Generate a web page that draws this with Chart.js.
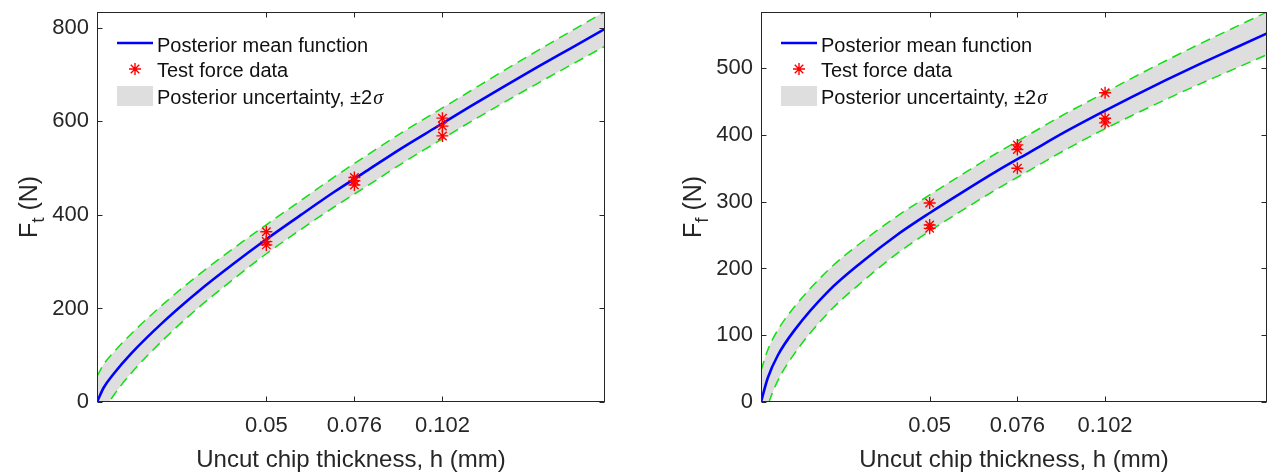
<!DOCTYPE html>
<html><head><meta charset="utf-8">
<script src="https://cdn.jsdelivr.net/npm/chart.js@4.4.1/dist/chart.umd.min.js"></script>
<style>
html,body{margin:0;padding:0;background:#fff;}
#wrap{position:relative;width:1276px;height:472px;background:#fff;}
.panel{position:absolute;top:0;width:638px;height:472px;}
</style></head><body>
<div id="wrap">
<div class="panel" style="left:0"><canvas id="c1"></canvas></div>
<div class="panel" style="left:638px"><canvas id="c2"></canvas></div>
</div>
<script>
// ---------- data ----------
const hGrid = [0, 0.002, 0.005, 0.01, 0.02, 0.03, 0.04, 0.05, 0.06, 0.07, 0.08, 0.09, 0.10, 0.11, 0.12, 0.13, 0.14, 0.15];

const ftMean  = [0, 31, 61, 103, 174, 237, 294, 348, 399, 449, 496, 543, 587, 631, 674, 716, 757, 798];
const ftUpper = [55, 81, 107, 145, 212, 272, 327, 379, 430, 481, 529, 576, 620, 664, 708, 751, 793, 835];
const ftLower = [-55, -19, 15, 61, 136, 202, 261, 317, 368, 417, 463, 510, 554, 598, 640, 681, 721, 761];

const ffMean  = [0, 36, 70, 108, 166, 210, 249, 283, 315, 346, 375, 404, 431, 457, 482, 506, 529, 552];
const ffUpper = [47, 78, 108, 143, 198, 240, 277, 310, 342, 373, 402, 431, 458, 485, 511, 536, 560, 584];
const ffLower = [-47, -6, 32, 73, 134, 180, 221, 256, 288, 319, 348, 377, 404, 429, 453, 476, 498, 520];

const testH  = [0.05, 0.05, 0.05, 0.076, 0.076, 0.076, 0.102, 0.102, 0.102];
const ftTest = [364, 343, 336, 480, 473, 464, 607, 590, 569];
const ffTest = [298, 265, 260, 385, 378, 350, 463, 425, 418];

const xTickValues = [0.05, 0.076, 0.102];
const xTickLabels = ['0.05', '0.076', '0.102'];
const ftTicks = [0, 200, 400, 600, 800];
const ffTicks = [0, 100, 200, 300, 400, 500];
const xTitle = 'Uncut chip thickness, h (mm)';
const ftTitle = ['F', 't', ' (N)'];
const ffTitle = ['F', 'f', ' (N)'];
const legendLabels = ['Posterior mean function', 'Test force data', 'Posterior uncertainty, \u00B12'];
const sigmaChar = '\u03C3';

// ---------- style ----------
const FAM = '"Liberation Sans", Arial, sans-serif';
const INK = '#262626';
const BLUE = '#0000ff', GREEN = '#10e010', RED = '#ff0000', GRAY = '#dedede';

function pts(xs, ys) { return xs.map((x, i) => ({x: x, y: ys[i]})); }

const boxPlugin = {
  id: 'boxPlugin',
  afterDraw(chart) {
    const ctx = chart.ctx, a = chart.chartArea;
    const xs = chart.scales.x, ys = chart.scales.y;
    const cfg = chart.options.plugins.boxPlugin;
    ctx.save();
    // box
    ctx.strokeStyle = INK; ctx.lineWidth = 1;
    const L = Math.round(a.left) + 0.5, R = Math.round(a.right) - 0.5;
    const T = Math.round(a.top) + 0.5, B = Math.round(a.bottom) - 0.5;
    ctx.strokeRect(L, T, R - L, B - T);
    // inward ticks
    const tl = 5;
    ctx.beginPath();
    xs.ticks.forEach(t => {
      const p = Math.round(xs.getPixelForValue(t.value)) + 0.5;
      ctx.moveTo(p, B); ctx.lineTo(p, B - tl);
      ctx.moveTo(p, T); ctx.lineTo(p, T + tl);
    });
    ys.ticks.forEach(t => {
      const p = Math.round(ys.getPixelForValue(t.value)) + 0.5;
      ctx.moveTo(L, p); ctx.lineTo(L + tl, p);
      ctx.moveTo(R, p); ctx.lineTo(R - tl, p);
    });
    ctx.stroke();

    // y title with subscript
    const parts = cfg.yTitle;
    const cx = a.left - 60, cy = (a.top + a.bottom) / 2;
    ctx.translate(cx, cy); ctx.rotate(-Math.PI / 2);
    const big = '25px ' + FAM, small = '19px ' + FAM;
    ctx.font = big; const w0 = ctx.measureText(parts[0]).width, w2 = ctx.measureText(parts[2]).width;
    ctx.font = small; const w1 = ctx.measureText(parts[1]).width;
    let x = -(w0 + w1 + w2) / 2;
    ctx.fillStyle = INK; ctx.textBaseline = 'alphabetic'; ctx.textAlign = 'left';
    ctx.font = big; ctx.fillText(parts[0], x, 0); x += w0;
    ctx.font = small; ctx.fillText(parts[1], x, 7); x += w1;
    ctx.font = big; ctx.fillText(parts[2], x, 0);
    ctx.setTransform(1, 0, 0, 1, 0, 0);
    ctx.restore();

    // legend
    ctx.save();
    const lx = a.left + 20, tx = a.left + 60;
    ctx.strokeStyle = BLUE; ctx.lineWidth = 2.6;
    ctx.beginPath(); ctx.moveTo(lx, a.top + 31); ctx.lineTo(lx + 36, a.top + 31); ctx.stroke();
    ctx.strokeStyle = RED; ctx.lineWidth = 1.4;
    const sx = lx + 18, sy = a.top + 57, r = 6;
    ctx.beginPath();
    for (let k = 0; k < 4; k++) {
      const ang = k * Math.PI / 4;
      ctx.moveTo(sx - r * Math.cos(ang), sy - r * Math.sin(ang));
      ctx.lineTo(sx + r * Math.cos(ang), sy + r * Math.sin(ang));
    }
    ctx.stroke();
    ctx.fillStyle = GRAY; ctx.fillRect(lx, a.top + 74, 36, 20);
    ctx.fillStyle = '#111'; ctx.textBaseline = 'alphabetic'; ctx.textAlign = 'left';
    ctx.font = '20px ' + FAM;
    ctx.fillText(legendLabels[0], tx, a.top + 40);
    ctx.fillText(legendLabels[1], tx, a.top + 65);
    ctx.fillText(legendLabels[2], tx, a.top + 92);
    const w = ctx.measureText(legendLabels[2]).width;
    ctx.font = 'italic 20px "Liberation Serif", "Times New Roman", serif';
    ctx.fillText(sigmaChar, tx + w + 1, a.top + 92);
    ctx.restore();
  }
};

function makePanel(id, mean, upper, lower, test, yTicks, yMax, yTitle, yWidth, padRight) {
  return new Chart(document.getElementById(id), {
    type: 'line',
    data: {
      datasets: [
        { data: pts(testH, test), showLine: false, pointStyle: 'star', pointRadius: 6,
          pointBorderColor: RED, pointBorderWidth: 1.4, pointBackgroundColor: RED, order: 0 },
        { data: pts(hGrid, mean), borderColor: BLUE, borderWidth: 2.6, pointRadius: 0,
          cubicInterpolationMode: 'monotone', fill: false, order: 1 },
        { data: pts(hGrid, upper), borderColor: GREEN, borderWidth: 1.5, borderDash: [10, 6], pointRadius: 0,
          cubicInterpolationMode: 'monotone', fill: '+1', backgroundColor: GRAY, order: 3 },
        { data: pts(hGrid, lower), borderColor: GREEN, borderWidth: 1.5, borderDash: [10, 6], pointRadius: 0,
          cubicInterpolationMode: 'monotone', fill: false, order: 2 }
      ]
    },
    options: {
      responsive: true, maintainAspectRatio: false, animation: false,
      layout: { padding: { left: 0, right: padRight, top: 12, bottom: 0 } },
      plugins: { legend: { display: false }, tooltip: { enabled: false }, boxPlugin: { yTitle: yTitle } },
      scales: {
        x: {
          type: 'linear', min: 0, max: 0.15,
          afterBuildTicks: s => { s.ticks = xTickValues.map(v => ({ value: v })); },
          ticks: { callback: (v, i) => xTickLabels[i], font: { family: FAM, size: 22, lineHeight: 1 },
                   color: INK, padding: 13, maxRotation: 0, autoSkip: false },
          grid: { display: false, drawTicks: false }, border: { display: false },
          title: { display: true, text: xTitle, color: INK, font: { family: FAM, size: 24, lineHeight: 1 }, padding: 0 },
          afterFit: s => { s.height = 70; s.paddingLeft = 0; s.paddingRight = 0; }
        },
        y: {
          type: 'linear', min: 0, max: yMax,
          afterBuildTicks: s => { s.ticks = yTicks.map(v => ({ value: v })); },
          ticks: { font: { family: FAM, size: 22, lineHeight: 1 }, color: INK, padding: 8 },
          grid: { display: false, drawTicks: false }, border: { display: false },
          afterFit: s => { s.width = yWidth; s.paddingTop = 0; s.paddingBottom = 0; }
        }
      }
    },
    plugins: [boxPlugin]
  });
}

makePanel('c1', ftMean, ftUpper, ftLower, ftTest, ftTicks, 834, ftTitle, 97, 33);
makePanel('c2', ffMean, ffUpper, ffLower, ffTest, ffTicks, 584, ffTitle, 123, 9);
</script>
</body></html>
